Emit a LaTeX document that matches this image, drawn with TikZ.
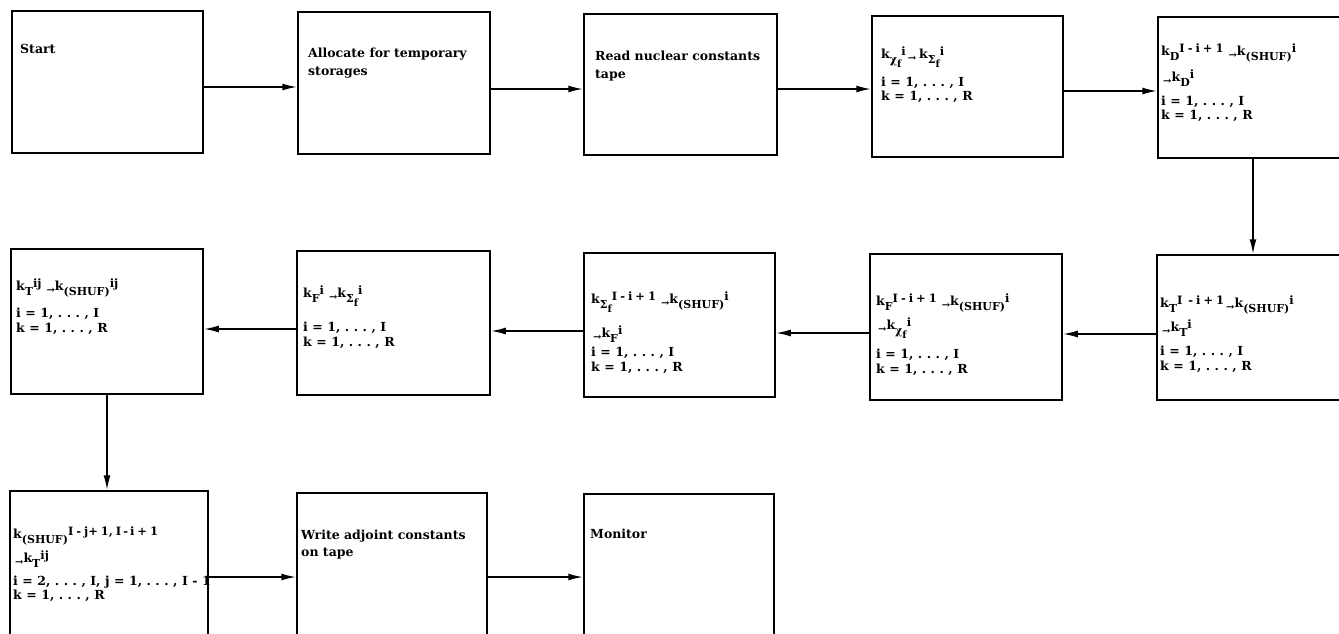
\documentclass[tikz,border=0pt]{standalone}
\usepackage{fontspec}
\setmainfont{DejaVu Serif}
\usetikzlibrary{arrows.meta}
\newcommand{\hs}{\hspace{4.5pt}}
\newcommand{\subsz}{\fontsize{11}{11}\selectfont}
\newcommand{\supsz}{\fontsize{11.5}{11}\selectfont}
% k with lowered subscript and raised superscript, typewriter style
\newcommand{\kk}[2]{k\raisebox{-5pt}{\subsz #1}\raisebox{2.5pt}{\supsz #2}}
\newcommand{\lto}{\hspace{2pt}\raisebox{-3pt}{\fontsize{10}{10}\selectfont →}}
\newcommand{\chif}{χ\raisebox{-4pt}{\fontsize{10}{10}\selectfont f}}
\newcommand{\sigf}{Σ\raisebox{-4pt}{\fontsize{10}{10}\selectfont f}}
\newcommand{\shuf}{(SHUF)}
\newcommand{\imi}{I\hspace{3pt}-\hspace{3pt}i\hspace{3pt}+\hspace{3pt}1\hspace{3pt}}
\begin{document}
\begin{tikzpicture}[x=1pt,y=-1pt,
  bx/.style={draw, line width=1.5pt, inner sep=0pt},
  ln/.style={anchor=base west, inner sep=0pt, font=\fontsize{12.5}{15}\selectfont\bfseries},
  arr/.style={line width=1.8pt, -{Latex[length=15pt,width=7pt]}}]
\useasboundingbox (0,0) rectangle (1339,633);
% row 1
\node[bx, minimum width=191pt, minimum height=142pt] (b1) at (107.5,82) {};
\node[bx, minimum width=192pt, minimum height=142pt] (b2) at (394,83) {};
\node[bx, minimum width=193pt, minimum height=141pt] (b3) at (680.5,84.5) {};
\node[bx, minimum width=191pt, minimum height=141pt] (b4) at (967.5,86.5) {};
\node[bx, minimum width=192pt, minimum height=141pt] (b5) at (1254,87.5) {};
% row 2
\node[bx, minimum width=193pt, minimum height=145pt] (c5) at (1253.5,327.5) {};
\node[bx, minimum width=192pt, minimum height=146pt] (c4) at (966,327) {};
\node[bx, minimum width=191pt, minimum height=144pt] (c3) at (679.5,325) {};
\node[bx, minimum width=193pt, minimum height=144pt] (c2) at (393.5,323) {};
\node[bx, minimum width=192pt, minimum height=145pt] (c1) at (107,321.5) {};
% row 3
\node[bx, minimum width=198pt, minimum height=159pt] (d1) at (109,570.5) {};
\node[bx, minimum width=190pt, minimum height=157pt] (d2) at (392,571.5) {};
\node[bx, minimum width=190pt, minimum height=156pt] (d3) at (679,572) {};
% texts, row 1
\node[ln] (t1) at (20,53) {Start};
\node[ln] (t2a) at (308,57) {Allocate for temporary};
\node[ln] (t2b) at (308,75) {storages};
\node[ln] (t3a) at (595,60) {Read nuclear constants};
\node[ln] (t3b) at (595,78) {tape};
\node[ln] (t4a) at (881,58) {\kk{\chif}{i}\lto\hspace{3pt}\kk{\sigf}{i}};
\node[ln] (t4b) at (881,86) {i\hs=\hs1,\hs.\hs.\hs.\hs,\hs I};
\node[ln] (t4c) at (881,100) {k\hs=\hs1,\hs.\hs.\hs.\hs,\hs R};
\node[ln] (t5a) at (1161,55) {\kk{D}{\imi}\lto\kk{\shuf}{i}};
\node[ln] (t5b) at (1161,81) {\lto\kk{D}{i}};
\node[ln] (t5c) at (1161,105) {i\hs=\hs1,\hs.\hs.\hs.\hs,\hs I};
\node[ln] (t5d) at (1161,119) {k\hs=\hs1,\hs.\hs.\hs.\hs,\hs R};
% row 2
\node[ln] (s5a) at (1160,307) {\kk{T}{I\hspace{6pt}-\hspace{3pt}i\hspace{3pt}+\hspace{3pt}1}\lto\kk{\shuf}{i}};
\node[ln] (s5b) at (1160,331) {\lto\kk{T}{i}};
\node[ln] (s5c) at (1160,355) {i\hs=\hs1,\hs.\hs.\hs.\hs,\hs I};
\node[ln] (s5d) at (1160,370) {k\hs=\hs1,\hs.\hs.\hs.\hs,\hs R};
\node[ln] (s4a) at (876,305) {\kk{F}{\imi}\lto\kk{\shuf}{i}};
\node[ln] (s4b) at (876,329) {\lto\kk{\chif}{i}};
\node[ln] (s4c) at (876,358) {i\hs=\hs1,\hs.\hs.\hs.\hs,\hs I};
\node[ln] (s4d) at (876,373) {k\hs=\hs1,\hs.\hs.\hs.\hs,\hs R};
\node[ln] (s3a) at (591,303) {\kk{\sigf}{\imi}\lto\kk{\shuf}{i}};
\node[ln] (s3b) at (591,337) {\lto\kk{F}{i}};
\node[ln] (s3c) at (591,356) {i\hs=\hs1,\hs.\hs.\hs.\hs,\hs I};
\node[ln] (s3d) at (591,371) {k\hs=\hs1,\hs.\hs.\hs.\hs,\hs R};
\node[ln] (s2a) at (303,297) {\kk{F}{i}\hspace{3pt}\lto\kk{\sigf}{i}};
\node[ln] (s2b) at (303,331) {i\hs=\hs1,\hs.\hs.\hs.\hs,\hs I};
\node[ln] (s2c) at (303,346) {k\hs=\hs1,\hs.\hs.\hs.\hs,\hs R};
\node[ln] (s1a) at (16,290) {\kk{T}{ij}\hspace{3pt}\lto\kk{\shuf}{ij}};
\node[ln] (s1b) at (16,317) {i\hs=\hs1,\hs.\hs.\hs.\hs,\hs I};
\node[ln] (s1c) at (16,332) {k\hs=\hs1,\hs.\hs.\hs.\hs,\hs R};
% row 3
\node[ln] (u1a) at (13,538) {\kk{\shuf}{I\hspace{3pt}-\hspace{3pt}j+\hspace{3pt}1,\hspace{3pt}I\hspace{2pt}-\hspace{2pt}i\hspace{3pt}+\hspace{3pt}1}};
\node[ln] (u1b) at (13,562) {\lto\kk{T}{ij}};
\node[ln] (u1c) at (13,585) {i\hs=\hs2,\hs.\hs.\hs.\hs,\hs I,\hs j\hs=\hs1,\hs.\hs.\hs.\hs,\hs I\hs-\hs1};
\node[ln] (u1d) at (13,599) {k\hs=\hs1,\hs.\hs.\hs.\hs,\hs R};
\node[ln] (u2a) at (301,539) {Write adjoint constants};
\node[ln] (u2b) at (301,556) {on tape};
\node[ln] (u3) at (590,538) {Monitor};
% arrows
\draw[arr] ([yshift=-5pt]b1.east) -- ([yshift=-5pt]b1.east -| b2.west);
\draw[arr] ([yshift=-6pt]b2.east) -- ([yshift=-6pt]b2.east -| b3.west);
\draw[arr] ([yshift=-4.5pt]b3.east) -- ([yshift=-4.5pt]b3.east -| b4.west);
\draw[arr] ([yshift=-4.5pt]b4.east) -- ([yshift=-4.5pt]b4.east -| b5.west);
\draw[arr] ([xshift=-1pt]b5.south) -- ([xshift=-1pt]b5.south |- c5.north);
\draw[arr] ([yshift=-6.5pt]c5.west) -- ([yshift=-6.5pt]c5.west -| c4.east);
\draw[arr] ([yshift=-6pt]c4.west) -- ([yshift=-6pt]c4.west -| c3.east);
\draw[arr] ([yshift=-6pt]c3.west) -- ([yshift=-6pt]c3.west -| c2.east);
\draw[arr] ([yshift=-6pt]c2.west) -- ([yshift=-6pt]c2.west -| c1.east);
\draw[arr] (c1.south) -- (c1.south |- d1.north);
\draw[arr] ([yshift=-6.5pt]d1.east) -- ([yshift=-6.5pt]d1.east -| d2.west);
\draw[arr] ([yshift=-5.5pt]d2.east) -- ([yshift=-5.5pt]d2.east -| d3.west);
\end{tikzpicture}
\end{document}
